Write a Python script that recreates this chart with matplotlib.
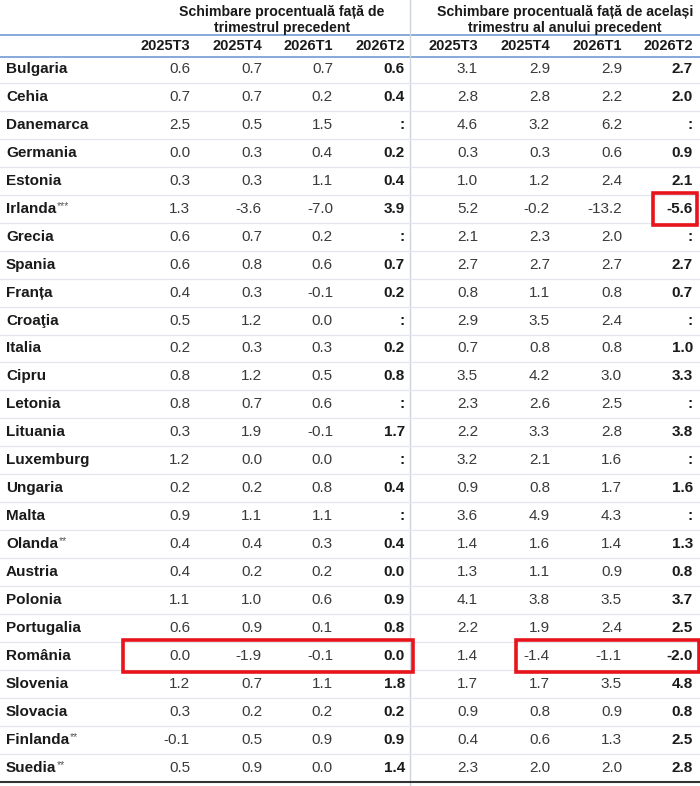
import matplotlib
matplotlib.use('Agg')
import matplotlib.pyplot as plt
from matplotlib import font_manager
from matplotlib.patches import Rectangle

# Date: schimbare procentuala PIB
tari = ['Bulgaria', 'Cehia', 'Danemarca', 'Germania', 'Estonia', 'Irlanda***',
        'Grecia', 'Spania', 'Franța', 'Croaţia', 'Italia', 'Cipru', 'Letonia',
        'Lituania', 'Luxemburg', 'Ungaria', 'Malta', 'Olanda**', 'Austria',
        'Polonia', 'Portugalia', 'România', 'Slovenia', 'Slovacia',
        'Finlanda**', 'Suedia**']
trimestre = ['2025T3', '2025T4', '2026T1', '2026T2']

fata_trim_prec = [
    ['0.6', '0.7', '0.7', '0.6'], ['0.7', '0.7', '0.2', '0.4'],
    ['2.5', '0.5', '1.5', ':'], ['0.0', '0.3', '0.4', '0.2'],
    ['0.3', '0.3', '1.1', '0.4'], ['1.3', '-3.6', '-7.0', '3.9'],
    ['0.6', '0.7', '0.2', ':'], ['0.6', '0.8', '0.6', '0.7'],
    ['0.4', '0.3', '-0.1', '0.2'], ['0.5', '1.2', '0.0', ':'],
    ['0.2', '0.3', '0.3', '0.2'], ['0.8', '1.2', '0.5', '0.8'],
    ['0.8', '0.7', '0.6', ':'], ['0.3', '1.9', '-0.1', '1.7'],
    ['1.2', '0.0', '0.0', ':'], ['0.2', '0.2', '0.8', '0.4'],
    ['0.9', '1.1', '1.1', ':'], ['0.4', '0.4', '0.3', '0.4'],
    ['0.4', '0.2', '0.2', '0.0'], ['1.1', '1.0', '0.6', '0.9'],
    ['0.6', '0.9', '0.1', '0.8'], ['0.0', '-1.9', '-0.1', '0.0'],
    ['1.2', '0.7', '1.1', '1.8'], ['0.3', '0.2', '0.2', '0.2'],
    ['-0.1', '0.5', '0.9', '0.9'], ['0.5', '0.9', '0.0', '1.4'],
]
fata_an_prec = [
    ['3.1', '2.9', '2.9', '2.7'], ['2.8', '2.8', '2.2', '2.0'],
    ['4.6', '3.2', '6.2', ':'], ['0.3', '0.3', '0.6', '0.9'],
    ['1.0', '1.2', '2.4', '2.1'], ['5.2', '-0.2', '-13.2', '-5.6'],
    ['2.1', '2.3', '2.0', ':'], ['2.7', '2.7', '2.7', '2.7'],
    ['0.8', '1.1', '0.8', '0.7'], ['2.9', '3.5', '2.4', ':'],
    ['0.7', '0.8', '0.8', '1.0'], ['3.5', '4.2', '3.0', '3.3'],
    ['2.3', '2.6', '2.5', ':'], ['2.2', '3.3', '2.8', '3.8'],
    ['3.2', '2.1', '1.6', ':'], ['0.9', '0.8', '1.7', '1.6'],
    ['3.6', '4.9', '4.3', ':'], ['1.4', '1.6', '1.4', '1.3'],
    ['1.3', '1.1', '0.9', '0.8'], ['4.1', '3.8', '3.5', '3.7'],
    ['2.2', '1.9', '2.4', '2.5'], ['1.4', '-1.4', '-1.1', '-2.0'],
    ['1.7', '1.7', '3.5', '4.8'], ['0.9', '0.8', '0.9', '0.8'],
    ['0.4', '0.6', '1.3', '2.5'], ['2.3', '2.0', '2.0', '2.8'],
]
titluri = ['Schimbare procentuală față de\ntrimestrul precedent',
           'Schimbare procentuală față de același\ntrimestru al anului precedent']

# font ingust, daca exista
def exista(nume):
    try:
        font_manager.findfont(nume, fallback_to_default=False)
        return True
    except Exception:
        return False

familie = ['Liberation Sans Narrow', 'DejaVu Sans'] if exista('Liberation Sans Narrow') \
    else ['Liberation Sans', 'DejaVu Sans']
plt.rcParams['font.family'] = familie

fig = plt.figure(figsize=(7, 7.86), dpi=100)
ax = fig.add_axes([0, 0, 1, 1])
ax.set_xlim(0, 700)
ax.set_ylim(786, 0)
ax.axis('off')
r = fig.canvas.get_renderer()

culoare_text = '#1a1a1a'
fs = 11
col_x = [190, 262, 333, 405, 478, 550, 622, 693]
y0 = 69
dy = 27.95

# titluri grup
ax.text(282, 20, titluri[0], ha='center', va='center', fontsize=10.2,
        fontweight='bold', color=culoare_text, linespacing=1.25)
ax.text(565, 20, titluri[1], ha='center', va='center', fontsize=10.2,
        fontweight='bold', color=culoare_text, linespacing=1.25)

# antet trimestre
for j, t in enumerate(trimestre * 2):
    ax.text(col_x[j], 46, t, ha='right', va='center', fontsize=10.5,
            fontweight='bold', color=culoare_text)

# linii
ax.plot([0, 700], [35, 35], color='#7da2d6', lw=1.3)
ax.plot([0, 700], [57, 57], color='#7da2d6', lw=1.3)
ax.plot([410, 410], [0, 786], color='#d0d4dc', lw=1.0)

for i, tara in enumerate(tari):
    y = y0 + i * dy
    baza = tara.rstrip('*')
    stele = tara[len(baza):]
    t = ax.text(6, y, baza, ha='left', va='center', fontsize=fs,
                fontweight='bold', color=culoare_text)
    if stele:
        bb = t.get_window_extent(renderer=r)
        x_end = ax.transData.inverted().transform((bb.x1, bb.y0))[0]
        ax.text(x_end + 0.5, y - 3, stele, ha='left', va='center', fontsize=7.5,
                color='#555555')
    valori = fata_trim_prec[i] + fata_an_prec[i]
    for j, v in enumerate(valori):
        gros = j in (3, 7)
        ax.text(col_x[j], y, v, ha='right', va='center', fontsize=fs,
                fontweight='bold' if gros else 'normal',
                color=culoare_text if gros else '#3a3a3a')
    if i < len(tari) - 1:
        ax.plot([0, 700], [y + dy / 2, y + dy / 2], color='#e3e6ee', lw=0.9)

# linia de jos
y_jos = y0 + (len(tari) - 1) * dy + 14
ax.plot([0, 700], [y_jos, y_jos], color='#333333', lw=1.5)

# chenare rosii
i_ro = tari.index('România')
i_ie = tari.index('Irlanda***')
for (x1, x2, i) in [(123, 413, i_ro), (516, 699, i_ro), (653, 697, i_ie)]:
    yc = y0 + i * dy
    ax.add_patch(Rectangle((x1, yc - 16), x2 - x1, 32, fill=False,
                           edgecolor='#e8141c', lw=2.6, zorder=5))

fig.savefig('out.png', dpi=100, facecolor='white')
